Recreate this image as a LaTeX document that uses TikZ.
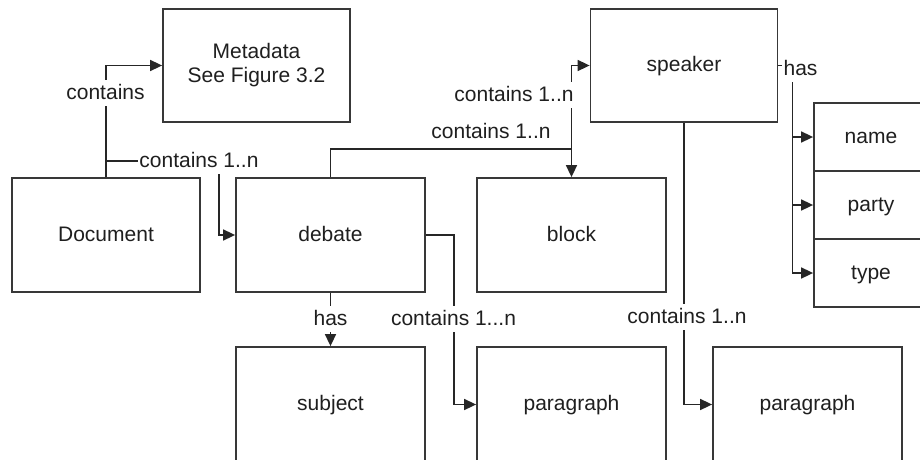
\documentclass[tikz,border=0pt]{standalone}
\usepackage{fontspec}
\setmainfont{Liberation Sans}
\usetikzlibrary{arrows.meta}

\begin{document}
\begin{tikzpicture}[x=1pt, y=-1pt,
  txt/.style={font=\fontsize{21}{24}\selectfont, text=black!88},
  entity/.style={txt, draw=black!78, line width=1.8pt, fill=white,
    inner sep=0pt, text height=15pt, text depth=3pt},
  entity2/.style={txt, draw=black!78, line width=1.8pt, fill=white,
    inner sep=0pt, align=center},
  conn/.style={draw=black!85, line width=1.6pt,
    -{Triangle[length=12pt, width=11pt]}},
  lbl/.style={txt, fill=white, inner xsep=1.5pt, inner ysep=4pt,
    text height=15pt, text depth=3pt, anchor=base}
]
\useasboundingbox (0,0) rectangle (920,460);
\clip (0,0) rectangle (920,460);
\fill[white] (0,0) rectangle (920,460);

% entity boxes
\node[entity2, minimum width=187pt, minimum height=113pt] (meta) at (256.5,65.5)
  {Metadata\\See Figure 3.2};
\node[entity, minimum width=187pt, minimum height=113pt] (speaker) at (684,65.5) {speaker};
\node[entity, minimum width=188pt, minimum height=114pt] (doc) at (106,235) {Document};
\node[entity, minimum width=189pt, minimum height=114pt] (debate) at (330.5,235) {debate};
\node[entity, minimum width=189pt, minimum height=114pt] (block) at (571.5,235) {block};
\node[entity, minimum width=189pt, minimum height=115pt] (subject) at (330.5,404.5) {subject};
\node[entity, minimum width=189pt, minimum height=115pt] (para1) at (571.5,404.5) {paragraph};
\node[entity, minimum width=189pt, minimum height=115pt] (para2) at (807.5,404.5) {paragraph};

% speaker attributes
\node[entity, minimum width=114pt, minimum height=68pt] (name) at (871,137) {name};
\node[entity, minimum width=114pt, minimum height=68pt] (party) at (871,205) {party};
\node[entity, minimum width=114pt, minimum height=68pt] (type) at (871,273) {type};

% bend points
\coordinate (docbend) at (219,161);
\coordinate (junction) at (571.5,150);

% connectors
\draw[conn] (doc.north) |- (meta.west);
\draw[conn] (doc.north) |- (docbend) |- (debate.west);
\draw[conn] (debate.north) -- ++(0,-28) -| (block.north);
\draw[conn] (junction) |- (speaker.west);
\draw[conn] (speaker.east) -- ++(14,0) |- (name.west);
\draw[conn] (speaker.east) -- ++(14,0) |- (party.west);
\draw[conn] (speaker.east) -- ++(14,0) |- (type.west);
\draw[conn] (debate.south) -- (subject.north);
\draw[conn] (debate.east) -- ++(28,0) |- (para1.west);
\draw[conn] (speaker.south) |- (para2.west);

% connector labels
\node[lbl] (l1) at (105.5,99) {contains};
\node[lbl] (l2) at (199,167) {contains 1..n};
\node[lbl] (l3) at (514,101) {contains 1..n};
\node[lbl] (l4) at (491,138) {contains 1..n};
\node[lbl] (l5) at (800.5,75) {has};
\node[lbl] (l6) at (330.5,325) {has};
\node[lbl] (l7) at (453.5,325) {contains 1...n};
\node[lbl] (l8) at (687,323) {contains 1..n};
\end{tikzpicture}
\end{document}
